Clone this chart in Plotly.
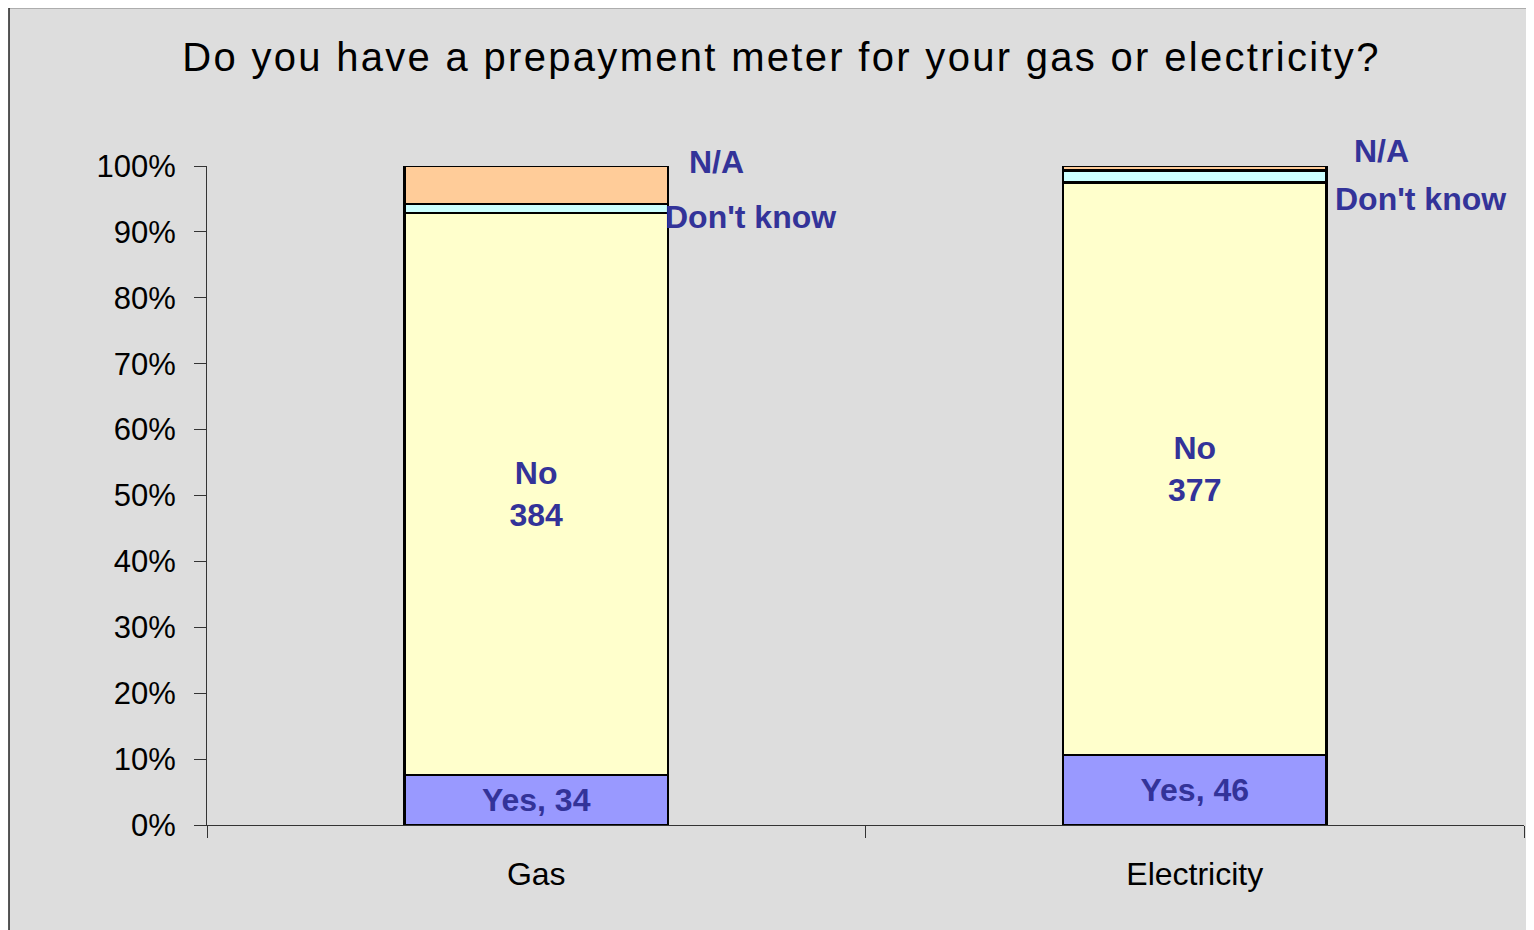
import plotly.graph_objects as go

# ---- data ----
categories = ["Gas", "Electricity"]
series_names = ["Yes", "No", "Don't know", "N/A"]
yes_counts = [34, 46]
no_counts = [384, 377]
dontknow_counts = [6, 8]
na_counts = [26, 3]
y_tick_values = [0, 0.1, 0.2, 0.3, 0.4, 0.5, 0.6, 0.7, 0.8, 0.9, 1.0]
y_tick_labels = ["0%", "10%", "20%", "30%", "40%", "50%", "60%", "70%", "80%", "90%", "100%"]

colors = {"Yes": "#9999FF", "No": "#FFFFCC", "Don't know": "#CCFFFF", "N/A": "#FFCC99"}
label_color = "#333399"
font_family = "Liberation Sans, Arial, sans-serif"

fig = go.Figure()

label_font = dict(family=font_family, size=32, color=label_color, weight="bold")
outline = dict(color="black", width=2.5)

fig.add_trace(go.Bar(
    name="Yes", x=categories, y=yes_counts,
    text=[f"Yes, {v}" for v in yes_counts],
    textposition="inside", insidetextanchor="middle", textangle=0,
    insidetextfont=label_font, constraintext="none",
    marker=dict(color=colors["Yes"], line=outline),
))
fig.add_trace(go.Bar(
    name="No", x=categories, y=no_counts,
    text=[f"No<br>{v}" for v in no_counts],
    textposition="inside", insidetextanchor="middle", textangle=0,
    insidetextfont=label_font, constraintext="none",
    marker=dict(color=colors["No"], line=outline),
))
fig.add_trace(go.Bar(
    name="Don't know", x=categories, y=dontknow_counts,
    textposition="none",
    marker=dict(color=colors["Don't know"], line=outline),
))
fig.add_trace(go.Bar(
    name="N/A", x=categories, y=na_counts,
    textposition="none",
    marker=dict(color=colors["N/A"], line=outline),
))

# outside labels for the thin segments (category index + offset, y fraction of plot)
outside_labels = [
    ("N/A", 0 + 0.273, 1.006),
    ("Don't know", 0 + 0.325, 0.923),
    ("N/A", 1 + 0.284, 1.023),
    ("Don't know", 1 + 0.343, 0.950),
]
for txt, xv, yv in outside_labels:
    fig.add_annotation(
        x=xv, y=yv, xref="x", yref="paper", text=txt, showarrow=False,
        font=label_font, xanchor="center", yanchor="middle",
    )

# page body has an 8px margin, so the figure is drawn from (8, 8)
OFF = 8
W, H = 1534 - OFF, 930 - OFF
L, R, T, B = 207 - OFF, 10, 166 - OFF, 104.5
pw, ph = W - L - R, H - T - B

# chart-area background with border (starts at 9,8 on the page and runs off the image)
fig.add_shape(
    type="rect", xref="paper", yref="paper", layer="below",
    x0=(9 - OFF - L) / pw, x1=(W + 40 - L) / pw,
    y0=-(H + 40 - T - ph) / ph, y1=(H - B - (8 - OFF) + 0.5) / ph,
    fillcolor="#DDDDDD", line=dict(color="#222222", width=1.5),
)

fig.update_layout(
    width=W, height=H,
    margin=dict(l=L, r=R, t=T, b=B, pad=0),
    paper_bgcolor="white",
    plot_bgcolor="rgba(0,0,0,0)",
    barmode="stack", barnorm="fraction",
    bargap=0.6,
    showlegend=False,
    uniformtext=dict(minsize=32, mode="show"),
    title=dict(
        text='<span style="letter-spacing:2.3px">Do you have a prepayment meter for your gas or electricity?</span>',
        x=(781.5 - OFF) / W, xref="container", xanchor="center",
        y=1 - (57 - OFF) / H, yref="container", yanchor="middle",
        font=dict(family=font_family, size=40, color="black"),
    ),
    xaxis=dict(
        showline=True, linecolor="#333333", linewidth=1,
        ticks="outside", ticklen=12, tickcolor="#333333", tickwidth=1,
        tickson="boundaries",
        tickfont=dict(family=font_family, size=32, color="black"),
        ticklabelstandoff=21,
        showgrid=False, zeroline=False,
    ),
    yaxis=dict(
        range=[0, 1],
        tickvals=y_tick_values, ticktext=y_tick_labels,
        showline=True, linecolor="#333333", linewidth=1,
        ticks="outside", ticklen=12, tickcolor="#333333", tickwidth=1,
        tickfont=dict(family=font_family, size=31, color="black"),
        ticklabelstandoff=12,
        showgrid=False, zeroline=False,
    ),
)

fig.write_html("out.html")
